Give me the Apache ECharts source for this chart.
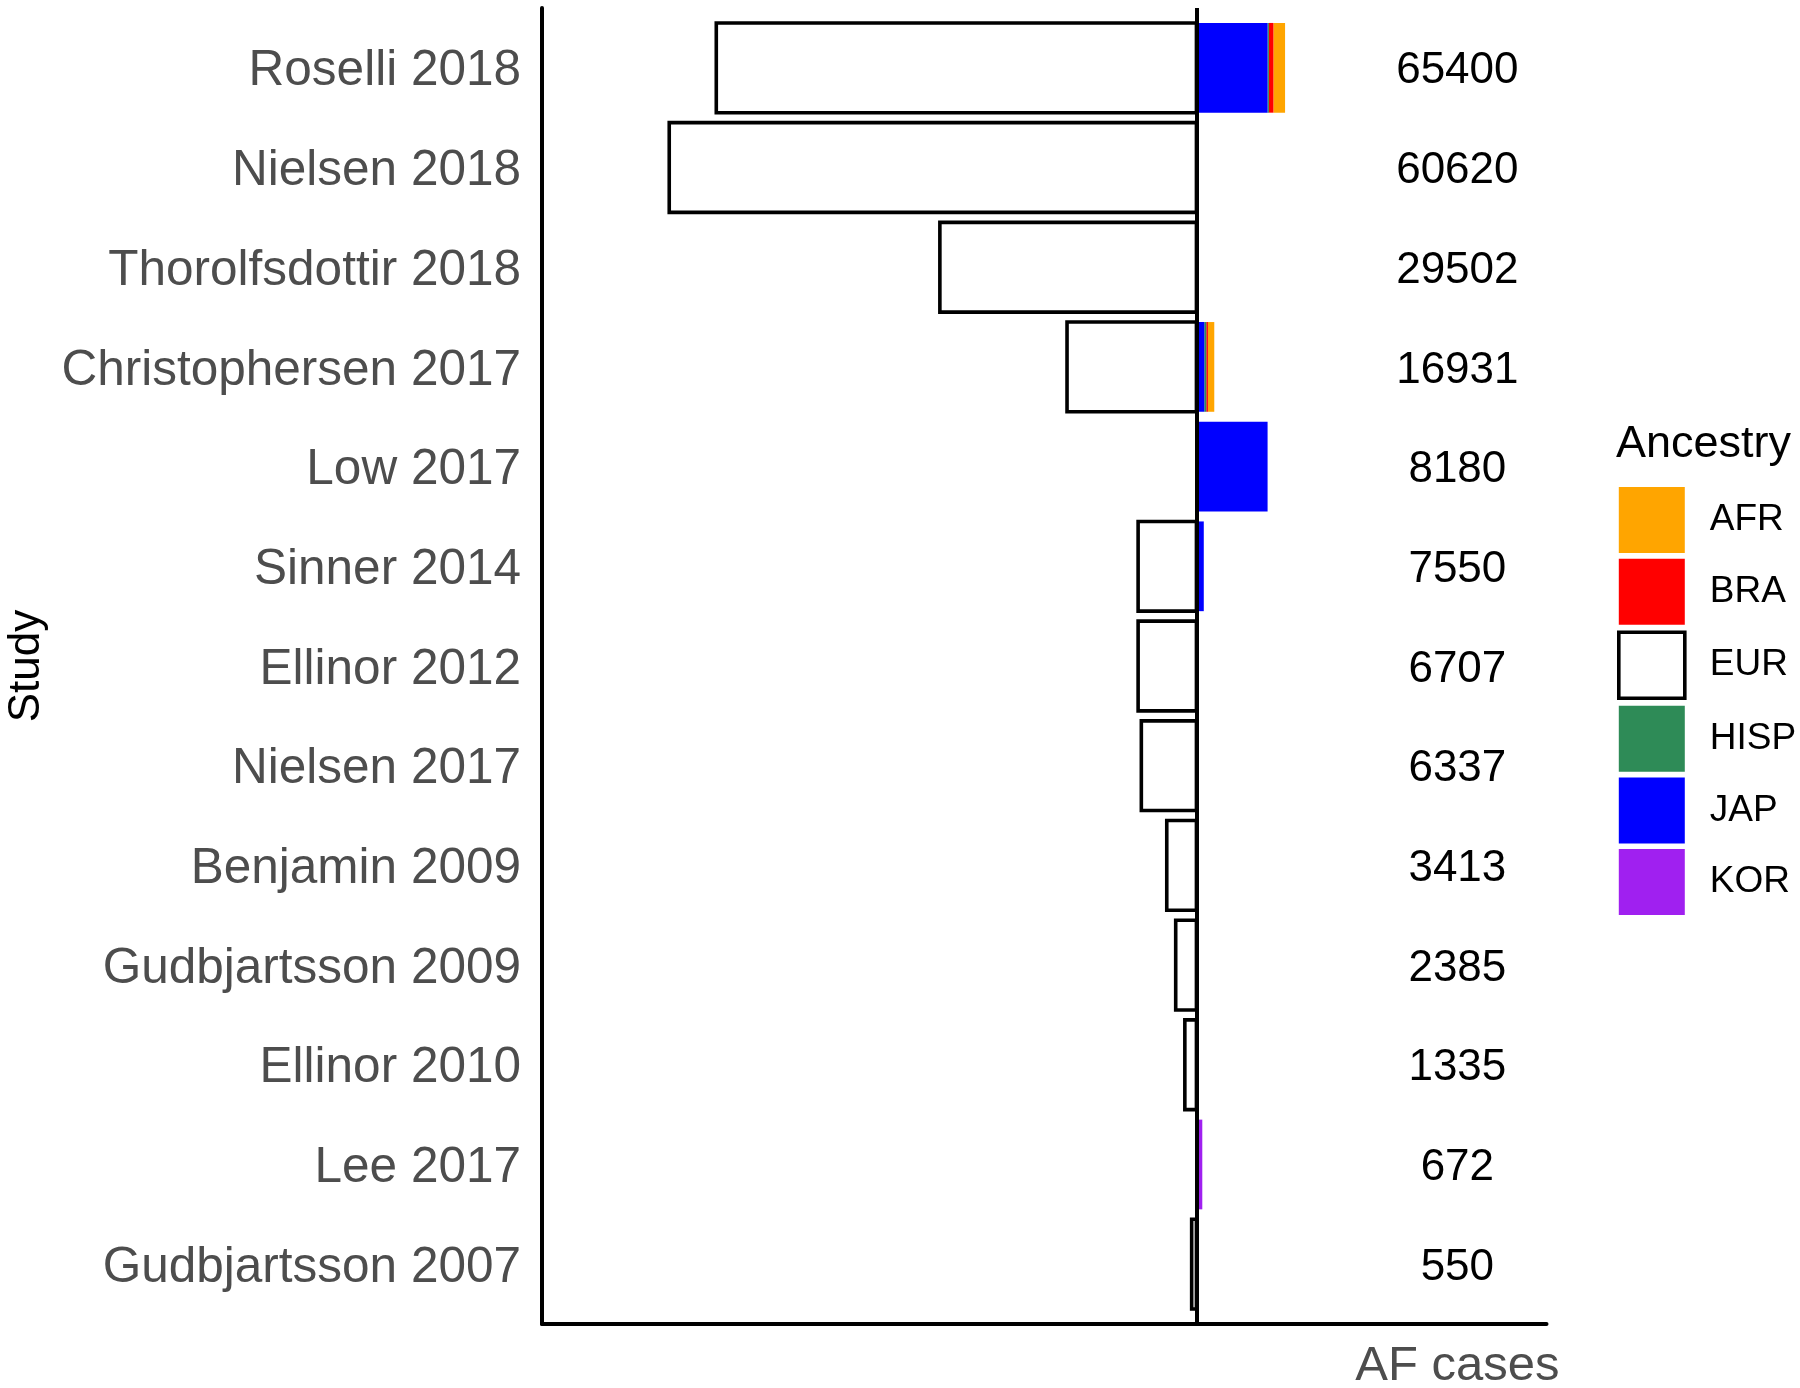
<!DOCTYPE html>
<html>
<head>
<meta charset="utf-8">
<script src="https://cdn.jsdelivr.net/npm/echarts@6/dist/echarts.min.js"></script>
<style>
html,body{margin:0;padding:0;background:#fff;}
#chart{width:1800px;height:1388px;}
</style>
</head>
<body>
<div id="chart"></div>
<script>
// ---- data ----
const studies = ['Roselli 2018','Nielsen 2018','Thorolfsdottir 2018','Christophersen 2017','Low 2017','Sinner 2014','Ellinor 2012','Nielsen 2017','Benjamin 2009','Gudbjartsson 2009','Ellinor 2010','Lee 2017','Gudbjartsson 2007'];
const totals  = [65400, 60620, 29502, 16931, 8180, 7550, 6707, 6337, 3413, 2385, 1335, 672, 550];
const EUR  = [55210, 60620, 29502, 14881, 0, 6707, 6707, 6337, 3413, 2385, 1335, 0, 550];
const KOR  = [0, 0, 0, 0, 0, 0, 0, 0, 0, 0, 0, 672, 0];
const JAP  = [8180, 0, 0, 900, 8180, 843, 0, 0, 0, 0, 0, 0, 0];
const HISP = [150, 0, 0, 230, 0, 0, 0, 0, 0, 0, 0, 0, 0];
const BRA  = [520, 0, 0, 190, 0, 0, 0, 0, 0, 0, 0, 0, 0];
const AFR  = [1340, 0, 0, 730, 0, 0, 0, 0, 0, 0, 0, 0, 0];
const ancestries = ['AFR','BRA','EUR','HISP','JAP','KOR'];
const colors = {AFR:'#FFA500', BRA:'#FF0000', EUR:'#FFFFFF', HISP:'#2E8B57', JAP:'#0000FF', KOR:'#A020F0'};
const xRange = [-75250, 40250];
const labelX = 30000;

const FONT = 'Liberation Sans, Arial, Helvetica, sans-serif';

// build stacked segments: EUR to the left, others stacked to the right from zero
const stackOrder = ['KOR','JAP','HISP','BRA','AFR'];
const valuesBy = {KOR, JAP, HISP, BRA, AFR, EUR};
const segData = {};
ancestries.forEach(a => segData[a] = []);
studies.forEach((s, i) => {
  if (EUR[i] > 0) segData.EUR.push([-EUR[i], 0, i]);
  let acc = 0;
  stackOrder.forEach(a => {
    const v = valuesBy[a][i];
    if (v > 0) { segData[a].push([acc, acc + v, i]); acc += v; }
  });
});

function makeRender(name) {
  return function (params, api) {
    const p0 = api.coord([api.value(0), api.value(2)]);
    const p1 = api.coord([api.value(1), api.value(2)]);
    const h = api.size([0, 0.9])[1];
    const isEur = name === 'EUR';
    return {
      type: 'rect',
      shape: {x: p0[0], y: p0[1] - h / 2, width: p1[0] - p0[0], height: h},
      style: isEur ? {fill: '#FFFFFF', stroke: '#000000', lineWidth: 3.6}
                   : {fill: colors[name], stroke: null, lineWidth: 0}
    };
  };
}

const series = ancestries.map(a => ({
  name: a,
  type: 'custom',
  renderItem: makeRender(a),
  itemStyle: a === 'EUR' ? {color: '#FFFFFF', borderColor: '#000', borderWidth: 3.6} : {color: colors[a]},
  encode: {x: [0, 1], y: 2},
  data: segData[a],
  silent: true,
  z: 2
}));

// zero line
series.push({
  type: 'custom',
  name: 'zero',
  data: [],
  renderItem: () => null,
  silent: true,
  markLine: {
    silent: true,
    symbol: ['none', 'none'],
    label: {show: false},
    lineStyle: {color: '#000', width: 4, type: 'solid'},
    data: [{xAxis: 0}],
    animation: false
  },
  z: 5
});

// total labels
series.push({
  type: 'custom',
  name: 'totals',
  silent: true,
  encode: {x: 0, y: 1},
  data: totals.map((t, i) => [labelX, i, t]),
  renderItem: function (params, api) {
    const p = api.coord([api.value(0), api.value(1)]);
    return {
      type: 'text',
      x: p[0], y: p[1] + 3.5,
      style: {text: String(api.value(2)), fontSize: 44, fontFamily: FONT, fill: '#000', align: 'center', verticalAlign: 'middle'}
    };
  },
  z: 3
});

const chart = echarts.init(document.getElementById('chart'), null, {renderer: 'canvas'});
chart.setOption({
  animation: false,
  backgroundColor: '#FFFFFF',
  title: {
    text: 'Ancestry', left: 1616, top: 422, padding: 0,
    textStyle: {fontSize: 45, fontWeight: 'normal', color: '#000', fontFamily: FONT}
  },
  legend: {
    data: ancestries.map(a => a === 'EUR'
      ? {name: a, icon: 'rect', itemStyle: {color: '#FFFFFF', borderColor: '#000', borderWidth: 3.6}}
      : {name: a, icon: 'rect', itemStyle: {color: colors[a], borderWidth: 0}}),
    orient: 'vertical',
    left: 1617, top: 487, padding: 0,
    itemWidth: 66, itemHeight: 66, itemGap: 5.7,
    selectedMode: false,
    textStyle: {fontSize: 37, color: '#000', fontFamily: FONT, padding: [6, 0, 0, 20]}
  },
  grid: {left: 542, top: 8, width: 1004.5, height: 1316, containLabel: false, outerBoundsMode: 'none'},
  xAxis: {
    type: 'value', min: xRange[0], max: xRange[1],
    axisLine: {show: true, onZero: false, lineStyle: {color: '#000', width: 4}},
    axisTick: {show: false},
    splitLine: {show: false},
    axisLabel: {
      customValues: [labelX],
      formatter: () => 'AF cases',
      fontSize: 49, color: '#4D4D4D', fontFamily: FONT, margin: 18
    }
  },
  yAxis: {
    type: 'value', inverse: true, min: -0.6, max: 12.6,
    axisLine: {show: true, onZero: false, lineStyle: {color: '#000', width: 4}},
    axisTick: {show: false},
    splitLine: {show: false},
    axisLabel: {
      customValues: studies.map((s, i) => i),
      formatter: v => '{a|' + studies[Math.round(v)] + '}',
      margin: 21,
      rich: {a: {fontSize: 49.5, color: '#4D4D4D', fontFamily: FONT, padding: [8, 0, 0, 0]}}
    },
    name: 'Study', nameLocation: 'middle', nameRotate: 90, nameGap: 493,
    nameTextStyle: {fontSize: 44, color: '#000', fontFamily: FONT}
  },
  series: series
});
</script>
</body>
</html>
